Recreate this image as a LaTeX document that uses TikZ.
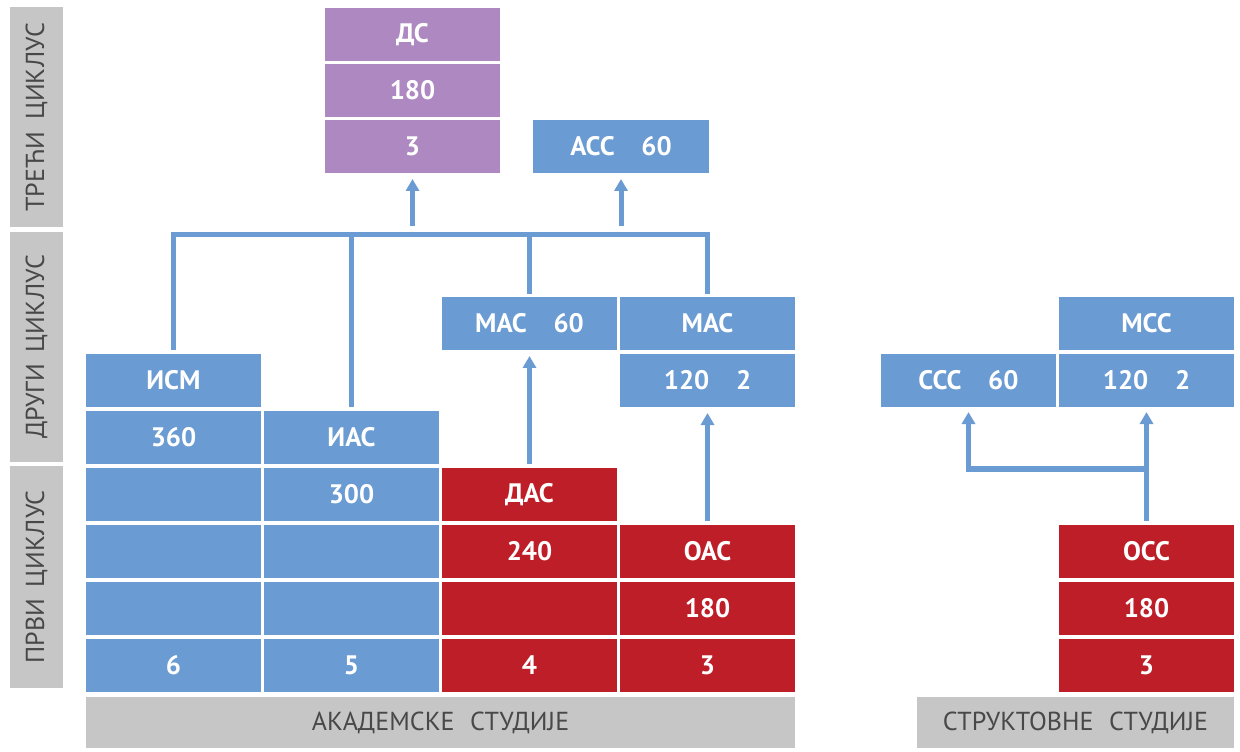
\documentclass[tikz,border=0pt]{standalone}
\usepackage{fontspec}
\setmainfont{PT Sans}
\usepackage{tikz}
\usetikzlibrary{arrows.meta,positioning,calc}

\definecolor{cycleblue}{RGB}{106,155,211}
\definecolor{cyclered}{RGB}{190,30,40}
\definecolor{cyclepurple}{RGB}{174,137,193}
\definecolor{bargrey}{RGB}{198,198,198}
\definecolor{bartext}{RGB}{72,72,72}

\newdimen\pxu \pxu=0.025cm
\newcommand\cellfont{\bfseries\fontsize{19}{21}\selectfont}
\newcommand\barfont{\fontsize{18.5}{20}\selectfont}

\begin{document}
\begin{tikzpicture}[x=\pxu,y=\pxu,node distance=4\pxu and 3\pxu,
                     cell/.style={
                                % The shape:
                                rectangle,minimum width=175\pxu,minimum height=53\pxu,
                                inner sep=0pt,outer sep=0pt,
                                % The rest
                                text=white,font=\cellfont},
                     bluecell/.style={cell,fill=cycleblue},
                     redcell/.style={cell,fill=cyclered},
                     purplecell/.style={cell,fill=cyclepurple},
                     greybar/.style={rectangle,inner sep=0pt,outer sep=0pt,
                                fill=bargrey,text=bartext,font=\barfont,
                                minimum height=51\pxu},
                     cyclebar/.style={greybar,rotate=90,minimum height=53\pxu},
                     link/.style={line width=3.56pt,draw=cycleblue},
                     arr/.style={link,-{Triangle[width=9.3pt,length=8.5pt]}}]
 \useasboundingbox (0,0) rectangle (1240,751);

 % cycle labels on the left
 \node (treci) [cyclebar,minimum width=220\pxu] at (36.5,634) {ТРЕЋИ\hspace{0.45em}ЦИКЛУС};
 \node (drugi) [cyclebar,minimum width=230\pxu] at (36.5,404) {ДРУГИ\hspace{0.45em}ЦИКЛУС};
 \node (prvi)  [cyclebar,minimum width=222\pxu] at (36.5,174) {ПРВИ\hspace{0.45em}ЦИКЛУС};

 % academic studies
 \node (six)    [bluecell] at (173.5,85.5) {6};
 \node (b11)    [bluecell,above=of six]    {};
 \node (b12)    [bluecell,above=of b11]    {};
 \node (b13)    [bluecell,above=of b12]    {};
 \node (ism360) [bluecell,above=of b13]    {360};
 \node (ism)    [bluecell,above=of ism360] {ИСМ};

 \node (five)   [bluecell,right=of six]    {5};
 \node (b21)    [bluecell,above=of five]   {};
 \node (b22)    [bluecell,above=of b21]    {};
 \node (ias300) [bluecell,above=of b22]    {300};
 \node (ias)    [bluecell,above=of ias300] {ИАС};

 \node (four)   [redcell,right=of five]    {4};
 \node (b31)    [redcell,above=of four]    {};
 \node (das240) [redcell,above=of b31]     {240};
 \node (das)    [redcell,above=of das240]  {ДАС};

 \node (three)  [redcell,right=of four]    {3};
 \node (oas180) [redcell,above=of three]   {180};
 \node (oas)    [redcell,above=of oas180]  {ОАС};
 \node (mas120) [bluecell,above=118\pxu of oas] {120\hspace{1em}2};
 \node (mas)    [bluecell,above=of mas120] {МАС};
 \node (mas60)  [bluecell,left=of mas]     {МАС\hspace{1em}60};

 % third cycle
 \node (ds3)    [purplecell] at (412.5,604.5) {3};
 \node (ds180)  [purplecell,above=3\pxu of ds3]   {180};
 \node (ds)     [purplecell,above=3\pxu of ds180] {ДС};
 \node (acc)    [bluecell,minimum width=176\pxu] at (621,604.5) {АСС\hspace{1em}60};

 % structural studies
 \node (occ3)   [redcell] at (1146.5,85.5) {3};
 \node (occ180) [redcell,above=of occ3]    {180};
 \node (occ)    [redcell,above=of occ180]  {ОСС};
 \node (mcc120) [bluecell,above=118\pxu of occ] {120\hspace{1em}2};
 \node (mcc)    [bluecell,above=of mcc120] {МСС};
 \node (ccc)    [bluecell,left=of mcc120]  {ССС\hspace{1em}60};

 \node (akad)   [greybar,minimum width=709\pxu] at (440.5,28.5) {АКАДЕМСКЕ\hspace{0.6em}СТУДИЈЕ};
 \node (strukt) [greybar,minimum width=317\pxu] at (1075.5,28.5) {СТРУКТОВНЕ\hspace{0.6em}СТУДИЈЕ};

 % connectors
 \coordinate (bus) at (0,516.5);
 \coordinate (fork) at ($(occ.north)+(0,56)$);
 \draw [link,shorten <=2.8pt,shorten >=2.1pt]
       (ism.north) -- (ism.north |- bus) -- (mas.north |- bus) -- (mas.north);
 \draw [link,shorten <=2.8pt] (ias.north) -- (ias.north |- bus);
 \draw [link,shorten <=2.1pt] (mas60.north) -- (mas60.north |- bus);
 \draw [arr,shorten <=5.7pt,shorten >=4.3pt] (ds3.south |- bus) -- (ds3.south);
 \draw [arr,shorten <=5.7pt,shorten >=4.3pt] (acc.south |- bus) -- (acc.south);
 \draw [arr,shorten <=2.8pt,shorten >=4.3pt] (das) -- (mas60);
 \draw [arr,shorten <=2.8pt,shorten >=4.3pt] (oas) -- (mas120);
 \draw [arr,shorten <=2.8pt,shorten >=3.6pt] (occ) -- (mcc120);
 \draw [arr,shorten >=3.6pt] (fork) -| (ccc);
\end{tikzpicture}
\end{document}
